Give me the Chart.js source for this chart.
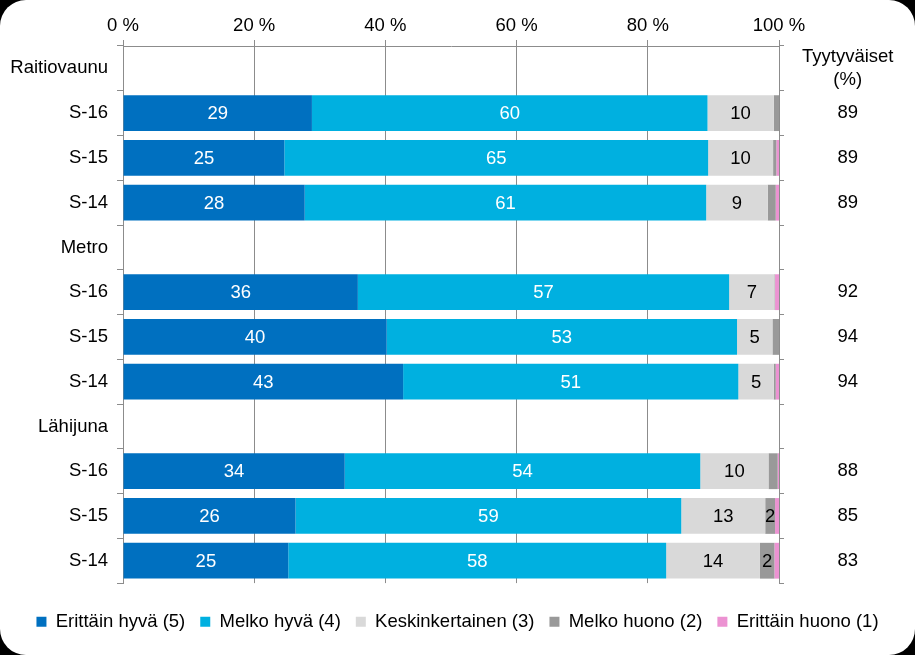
<!DOCTYPE html>
<html>
<head>
<meta charset="utf-8">
<script src="https://cdn.jsdelivr.net/npm/chart.js@4.4.1/dist/chart.umd.min.js"></script>
<style>
  html, body { margin: 0; padding: 0; background: #000; }
  #wrap { width: 915px; height: 655px; background: #fff; border-radius: 26px; overflow: hidden; }
  canvas { display: block; }
</style>
</head>
<body>
<div id="wrap"><canvas id="chart" width="915" height="655"></canvas></div>
<script>
// rows top to bottom, group headers have no bars
const categories = ['Raitiovaunu', 'S-16', 'S-15', 'S-14', 'Metro', 'S-16', 'S-15', 'S-14', 'Lähijuna', 'S-16', 'S-15', 'S-14'];
const erittainHyva  = [null, 28.8, 24.6, 27.7, null, 35.8, 40.2, 42.7, null, 33.8, 26.3, 25.2];
const melkoHyva     = [null, 60.3, 64.6, 61.2, null, 56.6, 53.4, 51.1, null, 54.2, 58.8, 57.6];
const keskinkert    = [null, 10.1,  9.9,  9.4, null,  6.9,  5.4,  5.4, null, 10.4, 12.8, 14.3];
const melkoHuono    = [null,  0.8,  0.5,  1.2, null,  0.1,  1.0,  0.3, null,  1.4,  1.5,  2.2];
const erittainHuono = [null,  0.0,  0.4,  0.5, null,  0.6,  0.0,  0.5, null,  0.2,  0.6,  0.7];
const tyytyvaiset   = [['Tyytyväiset', '(%)'], '89', '89', '89', '', '92', '94', '94', '', '88', '85', '83'];
const xTicks = [0, 20, 40, 60, 80, 100];

const FONT = '"Liberation Sans", Arial, sans-serif';
const GRID = '#8c8c8c';
Chart.defaults.font.family = FONT;
Chart.defaults.font.size = 18.5;
Chart.defaults.color = '#000';

// value labels in the middle of each segment
const segLabels = {
  id: 'segLabels',
  afterDatasetsDraw(chart) {
    const ctx = chart.ctx;
    ctx.save();
    ctx.font = '18.5px ' + FONT;
    ctx.textAlign = 'center';
    ctx.textBaseline = 'middle';
    chart.data.datasets.forEach((ds, di) => {
      chart.getDatasetMeta(di).data.forEach((bar, i) => {
        const v = ds.data[i];
        if (v == null || Math.round(v) < 2) return;
        ctx.fillStyle = ds.labelColor;
        ctx.fillText(Math.round(v), (bar.x + bar.base) / 2, bar.y + 1);
      });
    });
    ctx.restore();
  }
};

new Chart(document.getElementById('chart'), {
  type: 'bar',
  data: {
    labels: categories,
    datasets: [
      { label: 'Erittäin hyvä (5)', data: erittainHyva, backgroundColor: '#0070C0', labelColor: '#fff' },
      { label: 'Melko hyvä (4)', data: melkoHyva, backgroundColor: '#00B0E0', labelColor: '#fff' },
      { label: 'Keskinkertainen (3)', data: keskinkert, backgroundColor: '#D9D9D9', labelColor: '#000' },
      { label: 'Melko huono (2)', data: melkoHuono, backgroundColor: '#999999', labelColor: '#000' },
      { label: 'Erittäin huono (1)', data: erittainHuono, backgroundColor: '#EC92D2', labelColor: '#000' }
    ]
  },
  options: {
    indexAxis: 'y',
    responsive: false,
    animation: false,
    barPercentage: 0.8,
    categoryPercentage: 1,
    layout: { padding: { top: 10, left: 0, right: 0, bottom: 14 } },
    scales: {
      x: {
        type: 'linear', position: 'top', stacked: true, min: 0, max: 100,
        afterBuildTicks: s => { s.ticks = xTicks.map(v => ({ value: v })); },
        ticks: { callback: v => v + ' %', padding: 3, maxRotation: 0 },
        grid: { color: GRID, tickLength: 6 },
        border: { color: GRID },
        afterFit: s => { s.height = 36; }
      },
      y: {
        type: 'category', position: 'left', stacked: true, offset: true,
        grid: { drawOnChartArea: false, tickLength: 6, color: GRID, offset: true },
        border: { color: GRID },
        ticks: { padding: 9, autoSkip: false },
        afterFit: s => { s.width = 123; }
      },
      y2: {
        type: 'category', position: 'right', labels: tyytyvaiset, offset: true,
        grid: { drawOnChartArea: false, tickLength: 5, color: GRID, offset: true },
        border: { display: false },
        ticks: { padding: 18, crossAlign: 'center', autoSkip: false },
        afterFit: s => { s.width = 136; }
      }
    },
    plugins: {
      legend: {
        position: 'bottom',
        // empty title only adds a gap above the legend row
        title: { display: true, text: '', font: { size: 12 }, padding: 0 },
        labels: { boxWidth: 10, boxHeight: 10, padding: 15, color: '#000', font: { size: 18.5 } }
      },
      tooltip: { enabled: false }
    }
  },
  plugins: [segLabels]
});
</script>
</body>
</html>
